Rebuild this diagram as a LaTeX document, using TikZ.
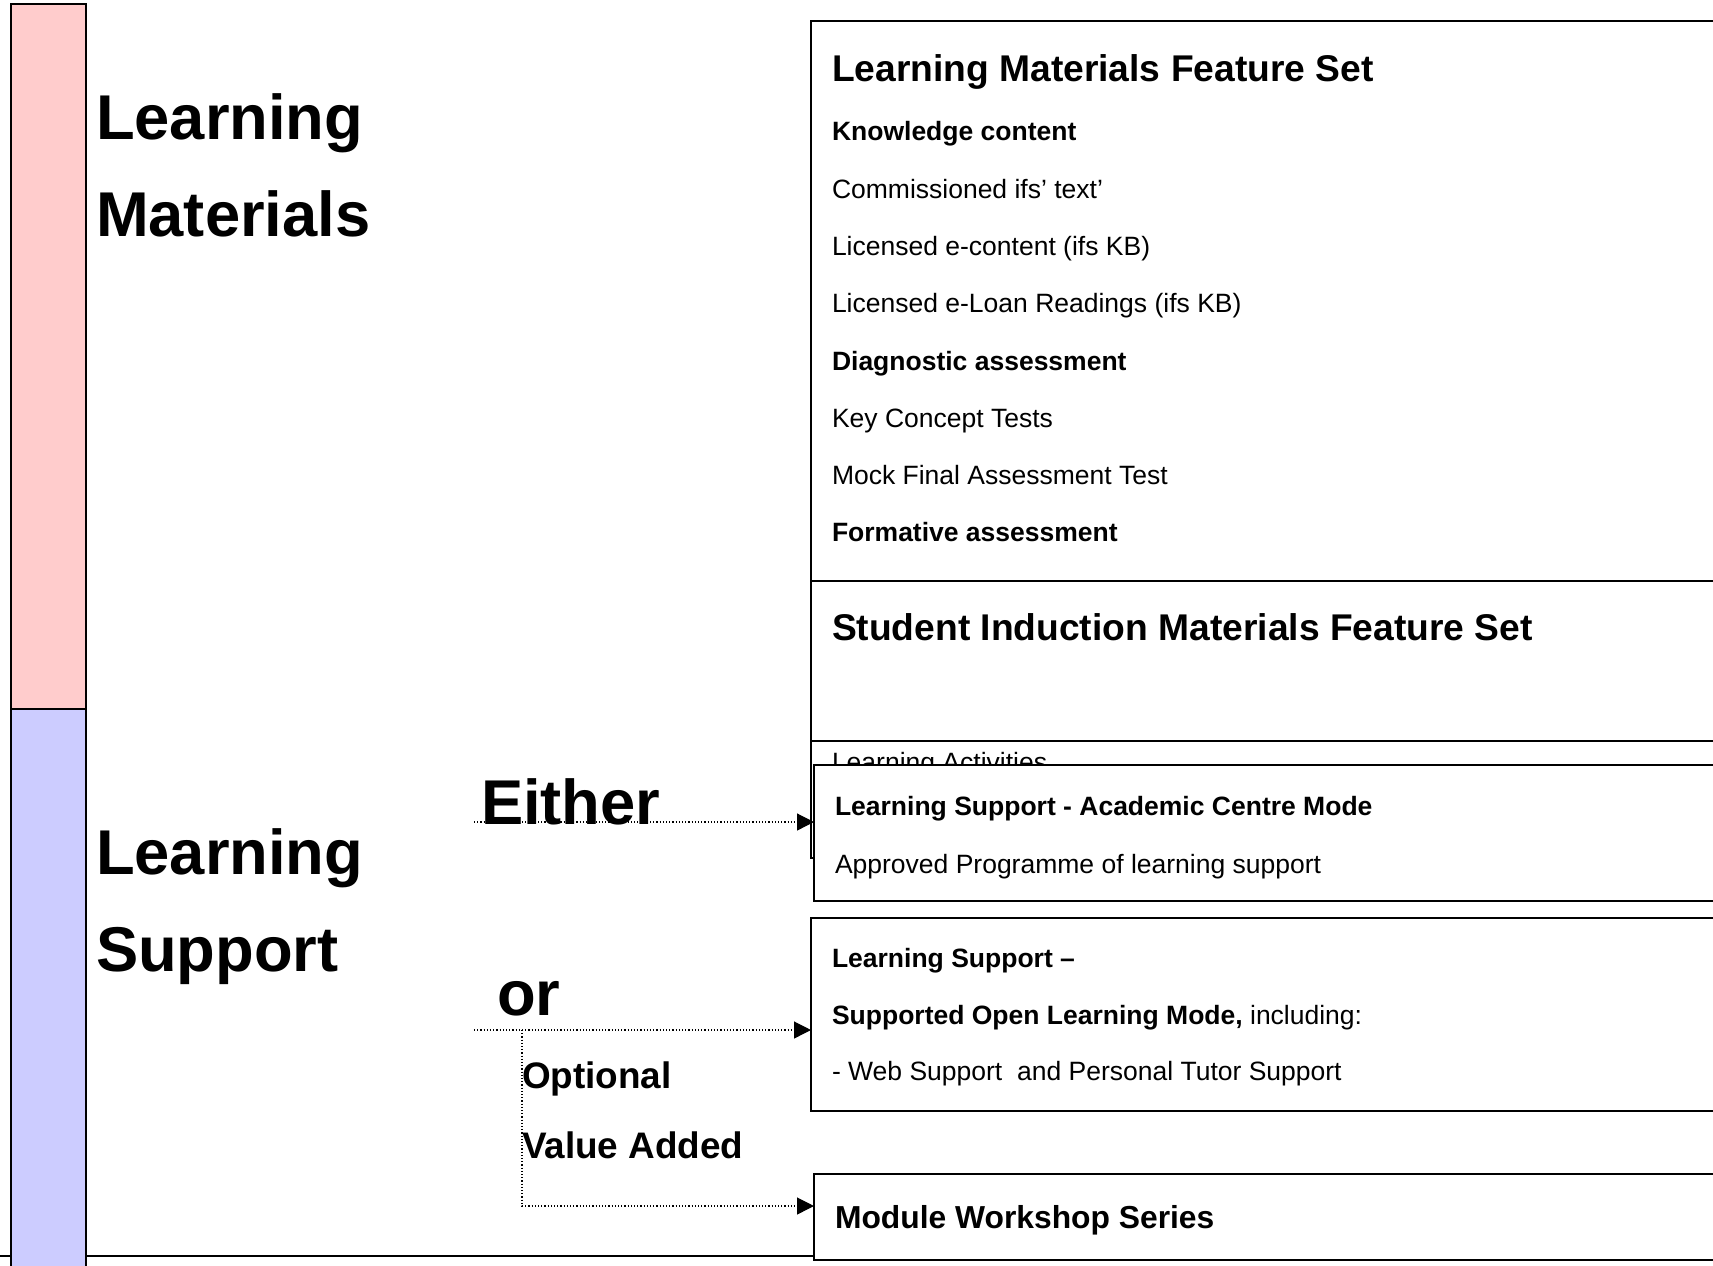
\documentclass[tikz,border=0pt]{standalone}
\usepackage{fontspec}
\setmainfont{Liberation Sans}
\usetikzlibrary{arrows.meta}
\definecolor{matpink}{HTML}{FFCCCC}
\definecolor{supblue}{HTML}{CCCCFF}
\begin{document}
\begin{tikzpicture}[x=0.5pt,y=-0.5pt,
  panel/.style={draw=black, line width=1pt, fill=white, anchor=north west,
    inner sep=0pt, outer sep=0pt},
  bar/.style={draw=black, line width=1pt, anchor=north west, inner sep=0pt,
    outer sep=0pt, minimum width=37.5pt},
  txt/.style={anchor=base west, inner sep=0pt, outer sep=0pt},
  bigtxt/.style={txt, font=\fontsize{31.65}{36}\selectfont\bfseries},
  midtxt/.style={txt, font=\fontsize{18.45}{22}\selectfont\bfseries},
  headtxt/.style={txt, font=\fontsize{18.6}{22}\selectfont\bfseries},
  bodytxt/.style={txt, font=\fontsize{13.25}{16}\selectfont},
  boldtxt/.style={txt, font=\fontsize{13.25}{16}\selectfont\bfseries},
  wstxt/.style={txt, font=\fontsize{15.9}{19}\selectfont\bfseries},
  flow/.style={densely dotted, line width=0.6pt, -{Triangle[length=8.5pt,width=8.5pt]}}
]
\useasboundingbox (0,0) rectangle (1713,1265);
\clip (0,0) rectangle (1713,1265);

% floor rule under the left column
\coordinate (floorL) at (0,1256);

% ---- right-hand feature panels ----
\node[panel, minimum width=464.5pt, minimum height=418.5pt] (lmset) at (811,21) {};
\node[headtxt] (lmtitle) at (832,81) {Learning Materials Feature Set};
\node[boldtxt] (lm0) at (832,140) {Knowledge content};
\node[bodytxt] (lm1) at (832,198) {Commissioned ifs’ text’};
\node[bodytxt] (lm2) at (832,255) {Licensed e-content (ifs KB)};
\node[bodytxt] (lm3) at (832,312) {Licensed e-Loan Readings (ifs KB)};
\node[boldtxt] (lm4) at (832,370) {Diagnostic assessment};
\node[bodytxt] (lm5) at (832,427) {Key Concept Tests};
\node[bodytxt] (lm6) at (832,484) {Mock Final Assessment Test};
\node[boldtxt] (lm7) at (832,541) {Formative assessment};
\node[bodytxt] (lm11) at (832,771) {Learning Activities};

\node[panel, minimum width=464.5pt, minimum height=80pt] (siset) at (811,581) {};
\node[headtxt] (sititle) at (832,640) {Student Induction Materials Feature Set};

\node[panel, minimum width=463pt, minimum height=68pt] (acm) at (814,765) {};
\node[boldtxt] (acmtitle) at (835,815) {Learning Support - Academic Centre Mode};
\node[bodytxt] (acmline) at (835,873) {Approved Programme of learning support};

\node[panel, minimum width=464.5pt, minimum height=96.5pt] (sol) at (811,918) {};
\node[boldtxt] (sol1) at (832,967) {Learning Support –};
\node[bodytxt] (sol2) at (832,1024) {\textbf{Supported Open Learning Mode,} including:};
\node[bodytxt] (sol3) at (832,1080) {- Web Support~ and Personal Tutor Support};

\node[panel, minimum width=463pt, minimum height=43pt] (ws) at (814,1174) {};
\node[wstxt] (wstitle) at (835,1228) {Module Workshop Series};

\draw[line width=1pt] (floorL) -- (floorL -| ws.west);

% ---- left colour bars ----
\node[bar, fill=matpink, minimum height=352.5pt] (matbar) at (11,4) {};
\node[bar, fill=supblue, minimum height=285.5pt] (supbar) at (11,709) {};

\node[bigtxt] (matA) at (96,139) {Learning};
\node[bigtxt] (matB) at (96,236) {Materials};
\node[bigtxt] (supA) at (96,874) {Learning};
\node[bigtxt] (supB) at (96,971) {Support};

% ---- choice labels and connectors ----
\node[bigtxt] (either) at (481,824) {Either};
\node[bigtxt] (orlbl) at (497,1015) {or};
\node[midtxt] (optlbl) at (522,1088) {Optional};
\node[midtxt] (valbl) at (522,1158) {Value Added};

\coordinate (eStart) at (474,822);
\coordinate (oStart) at (474,1030);
\coordinate (vTop) at (522,1030);
\coordinate (vBot) at (522,1206);

\draw[flow] (eStart) -- (eStart -| acm.west);
\draw[flow] (oStart) -- (oStart -| sol.west);
\draw[flow] (vTop) -- (vBot) -- (vBot -| ws.west);
\end{tikzpicture}
\end{document}
